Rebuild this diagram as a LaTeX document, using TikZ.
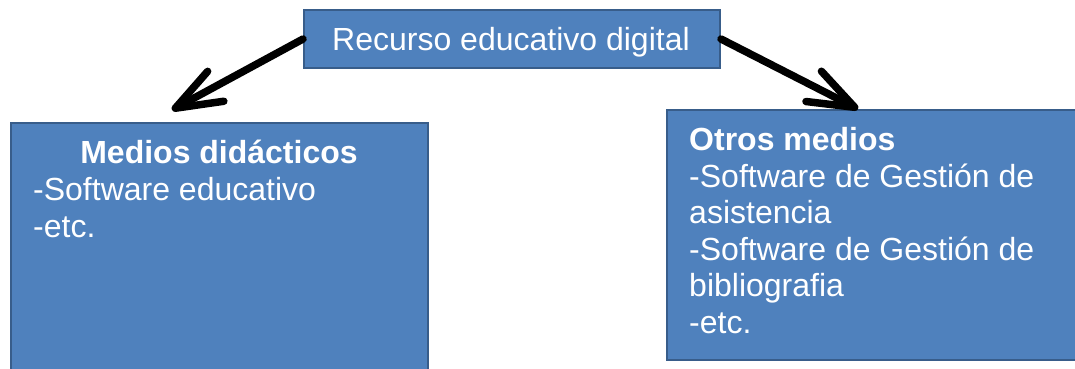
\documentclass[tikz,border=0pt]{standalone}
\usepackage{fontspec}
\setmainfont{Liberation Sans}
\usetikzlibrary{arrows.meta}
\definecolor{boxfill}{HTML}{4F81BD}
\definecolor{boxline}{HTML}{385D8A}
\tikzset{
  bluebox/.style={draw=boxline, fill=boxfill, line width=2pt},
  linetext/.style={text=white, inner sep=0pt, anchor=base west, font=\fontsize{32}{36}\selectfont},
  conn/.style={line width=7.5pt, line cap=round, -{Straight Barb[length=46pt, width=34pt, line cap=round, line join=round]}}
}
\begin{document}
\begin{tikzpicture}[x=1pt,y=-1pt]
\useasboundingbox (0,0) rectangle (1075,368);
% top box
\node[bluebox, minimum width=416pt, minimum height=58pt, anchor=north west, inner sep=0pt] (top) at (303,9) {};
\node[text=white, inner sep=0pt, anchor=base, font=\fontsize{32}{36}\selectfont] (toptext) at (511,50) {Recurso educativo digital};
% left box
\node[bluebox, minimum width=417pt, minimum height=260pt, anchor=north west, inner sep=0pt] (left) at (10,122) {};
\node[linetext, anchor=base, font=\bfseries\fontsize{32}{36}\selectfont] (l1) at (219,163) {Medios didácticos};
\node[linetext] (l2) at (33,200) {-Software educativo};
\node[linetext] (l3) at (33,237) {-etc.};
% right box
\node[bluebox, minimum width=420pt, minimum height=250pt, anchor=north west, inner sep=0pt] (right) at (666,109) {};
\node[linetext, font=\bfseries\fontsize{32}{36}\selectfont] (r1) at (689,150) {Otros medios};
\node[linetext] (r2) at (689,187) {-Software de Gestión de};
\node[linetext] (r3) at (689,223) {asistencia};
\node[linetext] (r4) at (689,260) {-Software de Gestión de};
\node[linetext] (r5) at (689,296) {bibliografia};
\node[linetext] (r6) at (689,333) {-etc.};
% arrows
\coordinate (ltip) at (172,110);
\coordinate (rtip) at (858,109);
\draw[conn] (top.west) -- (ltip);
\draw[conn] (top.east) -- (rtip);
\end{tikzpicture}
\end{document}
